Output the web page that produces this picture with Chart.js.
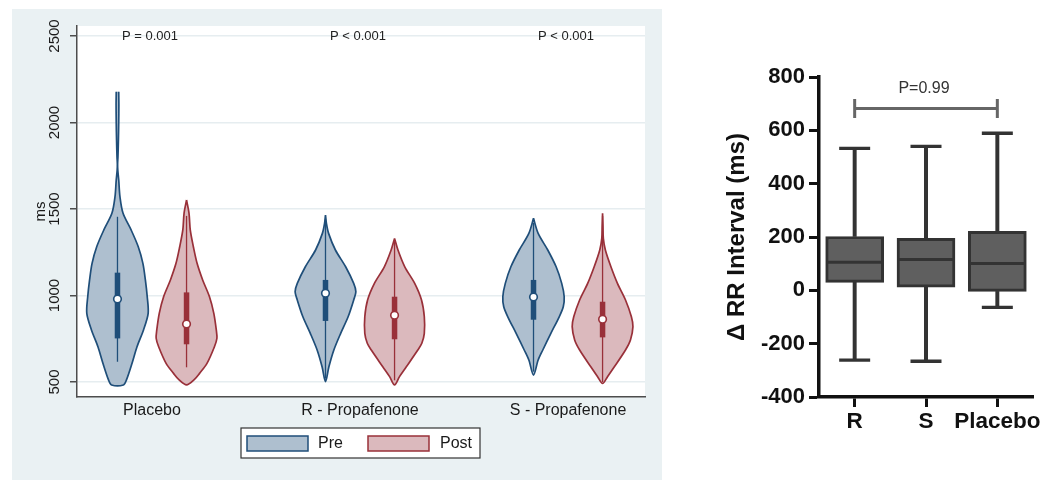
<!DOCTYPE html>
<html><head><meta charset="utf-8">
<script src="https://cdn.jsdelivr.net/npm/chart.js@4.4.1/dist/chart.umd.min.js"></script>
<style>
html,body{margin:0;padding:0;background:#fff;width:1050px;height:490px;overflow:hidden;}
#left{position:absolute;left:12px;top:9px;width:650px;height:471px;background:#eaf1f3;}
#right{position:absolute;left:662px;top:0;width:388px;height:490px;background:#fff;}
canvas{display:block;}
</style></head><body>
<div id="left"><canvas id="c1" width="650" height="471"></canvas></div>
<div id="right"><canvas id="c2" width="388" height="490"></canvas></div>
<script>
// ---------- Left panel data ----------
const groups = ['Placebo', 'R - Propafenone', 'S - Propafenone'];
const periods = ['Pre', 'Post'];
const pLabels = ['P = 0.001', 'P < 0.001', 'P < 0.001'];
const yTicksLeft = [500, 1000, 1500, 2000, 2500];

// violin profiles: value (ms) and relative density (1 = widest)
const placeboPreY = [2178, 2100, 2000, 1900, 1800, 1760, 1725, 1668, 1571, 1475, 1379, 1282, 1186, 1090, 993, 897, 801, 704, 608, 512, 483];
const placeboPreD = [0.04, 0.045, 0.04, 0.03, 0.015, 0.004, 0.01, 0.04, 0.08, 0.18, 0.44, 0.67, 0.82, 0.9, 0.96, 0.99, 0.84, 0.63, 0.47, 0.29, 0.19];
const placeboPostY = [1552, 1475, 1379, 1282, 1186, 1090, 993, 897, 801, 753, 704, 608, 550, 512, 483];
const placeboPostD = [0, 0.08, 0.12, 0.22, 0.34, 0.52, 0.74, 0.88, 0.96, 0.98, 0.90, 0.66, 0.42, 0.24, 0];
const rPreY = [1465, 1417, 1359, 1263, 1166, 1070, 1022, 974, 877, 781, 685, 588, 502];
const rPreD = [0, 0.03, 0.10, 0.32, 0.65, 0.91, 0.98, 0.91, 0.73, 0.49, 0.27, 0.11, 0];
const rPostY = [1330, 1263, 1166, 1070, 974, 877, 781, 724, 685, 588, 531, 483];
const rPostD = [0, 0.11, 0.33, 0.65, 0.87, 0.96, 0.96, 0.88, 0.75, 0.38, 0.16, 0];
const sPreY = [1446, 1359, 1263, 1166, 1070, 993, 935, 877, 781, 685, 627, 540];
const sPreD = [0, 0.15, 0.46, 0.73, 0.91, 0.99, 0.96, 0.83, 0.56, 0.30, 0.15, 0];
const sPostY = [1475, 1400, 1330, 1263, 1166, 1070, 974, 877, 820, 743, 685, 588, 531, 492];
const sPostD = [0, 0.013, 0.025, 0.09, 0.27, 0.48, 0.74, 0.93, 0.98, 0.90, 0.74, 0.38, 0.16, 0];

// box stats: [lower adjacent, q1, median, q3, upper adjacent]
const placeboPreBox = [617, 752, 980, 1132, 1455];
const placeboPostBox = [585, 718, 835, 1018, 1460];
const rPreBox = [520, 853, 1013, 1090, 1440];
const rPostBox = [510, 747, 886, 993, 1310];
const sPreBox = [560, 860, 992, 1090, 1420];
const sPostBox = [500, 758, 863, 964, 1460];

// ---------- Right panel data ----------
const rrCategories = ['R', 'S', 'Placebo'];
const rrMin = [-262, -266, -64];
const rrQ1 = [30, 12, -4];
const rrMedian = [105, 116, 101];
const rrQ3 = [202, 195, 221];
const rrMax = [532, 540, 589];
const rrTicks = [-400, -200, 0, 200, 400, 600, 800];
const bracketValue = 682;
const bracketLabel = 'P=0.99';
const bracketLabelValue = 757;

// ---------- styles ----------
Chart.defaults.font.family = "'Liberation Sans', Arial, Helvetica, sans-serif";
const FONT = "'Liberation Sans', Arial, Helvetica, sans-serif";
const HALF = 0.149, OFF = 0.166;
const COLORS = [
  {fill: '#aebfcf', line: '#1f4e79'},
  {fill: '#dbb9bd', line: '#993039'}
];

const violins = [
  {g: 0, p: 0, y: placeboPreY, d: placeboPreD, box: placeboPreBox},
  {g: 0, p: 1, y: placeboPostY, d: placeboPostD, box: placeboPostBox},
  {g: 1, p: 0, y: rPreY, d: rPreD, box: rPreBox},
  {g: 1, p: 1, y: rPostY, d: rPostD, box: rPostBox},
  {g: 2, p: 0, y: sPreY, d: sPreD, box: sPreBox},
  {g: 2, p: 1, y: sPostY, d: sPostD, box: sPostBox}
];
const centerOf = v => v.g + 1 + (v.p === 0 ? -OFF : OFF);

function outline(v) {
  const c = centerOf(v), pts = [];
  for (let i = 0; i < v.y.length; i++) pts.push({x: c + v.d[i] * HALF, y: v.y[i]});
  for (let i = v.y.length - 1; i >= 0; i--) {
    if (i === v.y.length - 1 && v.d[i] === 0) continue;
    pts.push({x: c - v.d[i] * HALF, y: v.y[i]});
  }
  return pts;
}

const leftDatasets = [];
[0, 1].forEach(p => {
  leftDatasets.push({
    label: periods[p] + ' median',
    data: violins.filter(v => v.p === p).map(v => ({x: centerOf(v), y: v.box[2]})),
    pointRadius: 3.8, pointBackgroundColor: '#ffffff', pointBorderColor: COLORS[p].line,
    pointBorderWidth: 1.6, showLine: false, order: 0
  });
});
violins.forEach(v => {
  const c = centerOf(v), col = COLORS[v.p];
  leftDatasets.push({
    label: 'iqr', data: [{x: c, y: v.box[1]}, {x: c, y: v.box[3]}],
    showLine: true, borderColor: col.line, borderWidth: 5.5, pointRadius: 0, order: 1
  });
  leftDatasets.push({
    label: 'whisker', data: [{x: c, y: v.box[0]}, {x: c, y: v.box[4]}],
    showLine: true, borderColor: col.line, borderWidth: 1.3, pointRadius: 0, order: 2
  });
  leftDatasets.push({
    label: periods[v.p], data: outline(v), showLine: true, fill: 'shape',
    backgroundColor: col.fill, borderColor: col.line, borderWidth: 1.7,
    tension: 0.3, pointRadius: 0, order: 3
  });
});

const leftDecor = {
  id: 'leftDecor',
  beforeDraw(chart) {
    const {ctx, chartArea: a} = chart;
    ctx.save();
    ctx.fillStyle = '#ffffff';
    ctx.fillRect(a.left, a.top, a.right - a.left, a.bottom - a.top);
    ctx.restore();
  },
  afterDraw(chart) {
    const {ctx, chartArea: a, scales: {x, y}} = chart;
    ctx.save();
    ctx.fillStyle = '#222';
    ctx.font = '13px ' + FONT;
    ctx.textAlign = 'center';
    ctx.textBaseline = 'middle';
    pLabels.forEach((t, i) => ctx.fillText(t, x.getPixelForValue(i + 1) - 2, y.getPixelForValue(2495)));
    // legend
    const cx = (a.left + a.right) / 2;
    const L = cx - 120, T = a.bottom + 31, W = 239, H = 30;
    ctx.fillStyle = '#ffffff';
    ctx.fillRect(L, T, W, H);
    ctx.strokeStyle = '#333';
    ctx.lineWidth = 1.2;
    ctx.strokeRect(L, T, W, H);
    const items = [{sx: 6, tx: 77}, {sx: 127, tx: 199}];
    ctx.font = '16px ' + FONT;
    ctx.textAlign = 'left';
    items.forEach((it, i) => {
      ctx.fillStyle = COLORS[i].fill;
      ctx.fillRect(L + it.sx, T + 8, 61, 15);
      ctx.strokeStyle = COLORS[i].line;
      ctx.lineWidth = 1.5;
      ctx.strokeRect(L + it.sx, T + 8, 61, 15);
      ctx.fillStyle = '#1a1a1a';
      ctx.fillText(periods[i], L + it.tx, T + 16);
    });
    ctx.restore();
  }
};

new Chart(document.getElementById('c1'), {
  type: 'scatter',
  data: {datasets: leftDatasets},
  plugins: [leftDecor],
  options: {
    responsive: false, animation: false, events: [],
    layout: {autoPadding: false, padding: {left: 0, right: 17, top: 17, bottom: 0}},
    plugins: {legend: {display: false}, tooltip: {enabled: false}},
    scales: {
      x: {
        type: 'linear', min: 0.6394, max: 3.370,
        afterBuildTicks: s => { s.ticks = groups.map((g, i) => ({value: i + 1})); },
        afterFit: s => { s.height = 83; s.paddingLeft = 0; s.paddingRight = 0; },
        grid: {display: false, drawTicks: false},
        border: {display: true, color: '#4d4d4d', width: 1.5},
        ticks: {autoSkip: false, maxRotation: 0, padding: 4, color: '#1a1a1a', font: {size: 16},
          callback: v => groups[Math.round(v) - 1]}
      },
      y: {
        type: 'linear', min: 413.3, max: 2557.8,
        afterBuildTicks: s => { s.ticks = yTicksLeft.map(v => ({value: v})); },
        afterFit: s => { s.width = 65; },
        grid: {color: '#e6edf0', lineWidth: 1.5, tickColor: '#4d4d4d', tickWidth: 1.5, tickLength: 7},
        border: {color: '#4d4d4d', width: 1.5},
        ticks: {minRotation: 90, maxRotation: 90, crossAlign: 'center', padding: -2, color: '#1a1a1a',
          font: {size: 15}, callback: v => String(v)},
        title: {display: true, text: 'ms', color: '#1a1a1a', font: {size: 15}, padding: {top: 20, bottom: 0}}
      }
    }
  }
});

// ---------- Right panel ----------
const DARK = '#333333';
const rightDecor = {
  id: 'rightDecor',
  afterDraw(chart) {
    const {ctx, scales: {x, y}} = chart;
    ctx.save();
    ctx.fillStyle = '#333';
    ctx.font = '16px ' + FONT;
    ctx.textAlign = 'center';
    ctx.textBaseline = 'middle';
    ctx.fillText(bracketLabel, x.getPixelForValue(1) - 2, y.getPixelForValue(bracketLabelValue));
    ctx.restore();
  }
};

new Chart(document.getElementById('c2'), {
  type: 'bar',
  data: {
    labels: rrCategories,
    datasets: [
      {type: 'line', label: 'median', data: rrMedian, showLine: false, pointStyle: 'line',
        pointRadius: 27, pointBorderWidth: 3, pointBorderColor: DARK, order: 0},
      {type: 'line', label: 'max cap', data: rrMax, showLine: false, pointStyle: 'line',
        pointRadius: 15.5, pointBorderWidth: 3.3, pointBorderColor: DARK, order: 0},
      {type: 'line', label: 'min cap', data: rrMin, showLine: false, pointStyle: 'line',
        pointRadius: 15.5, pointBorderWidth: 3.3, pointBorderColor: DARK, order: 0},
      {type: 'line', label: 'bracket', data: [bracketValue, null, bracketValue], spanGaps: true,
        borderColor: '#666', borderWidth: 3, pointStyle: 'line', pointRotation: 90, pointRadius: 9.5,
        pointBorderWidth: 3, pointBorderColor: '#666', order: 0},
      {label: 'box', data: rrQ1.map((q, i) => [q, rrQ3[i]]), barThickness: 58, grouped: false,
        backgroundColor: '#5f5f5f', borderColor: DARK, borderWidth: 3, borderSkipped: false, order: 1},
      {label: 'upper whisker', data: rrQ3.map((q, i) => [q, rrMax[i]]), barThickness: 3.3, grouped: false,
        backgroundColor: DARK, borderWidth: 0, order: 2},
      {label: 'lower whisker', data: rrMin.map((m, i) => [m, rrQ1[i]]), barThickness: 3.3, grouped: false,
        backgroundColor: DARK, borderWidth: 0, order: 2}
    ]
  },
  plugins: [rightDecor],
  options: {
    responsive: false, animation: false, events: [],
    layout: {autoPadding: false, padding: {left: 0, right: 17, top: 77, bottom: 0}},
    plugins: {legend: {display: false}, tooltip: {enabled: false}},
    scales: {
      x: {
        offset: true,
        afterFit: s => { s.height = 93; s.paddingLeft = 0; s.paddingRight = 0; },
        grid: {offset: false, drawOnChartArea: false, tickLength: 10, tickWidth: 3, tickColor: '#111'},
        border: {color: '#111', width: 3.5},
        ticks: {autoSkip: false, minRotation: 0, maxRotation: 0, padding: 1, color: '#111',
          font: {size: 22.5, weight: 'bold'}}
      },
      y: {
        min: -400, max: 800,
        afterBuildTicks: s => { s.ticks = rrTicks.map(v => ({value: v})); },
        afterFit: s => { s.width = 157; },
        grid: {drawOnChartArea: false, tickLength: 10, tickWidth: 3, tickColor: '#111'},
        border: {color: '#111', width: 3.5},
        ticks: {padding: 4, color: '#111', font: {size: 22, weight: 'bold'}},
        title: {display: true, text: 'Δ RR Interval (ms)', color: '#111', font: {size: 24, weight: 'bold'},
          padding: {top: 61, bottom: 0}}
      }
    }
  }
});
</script>
</body></html>
